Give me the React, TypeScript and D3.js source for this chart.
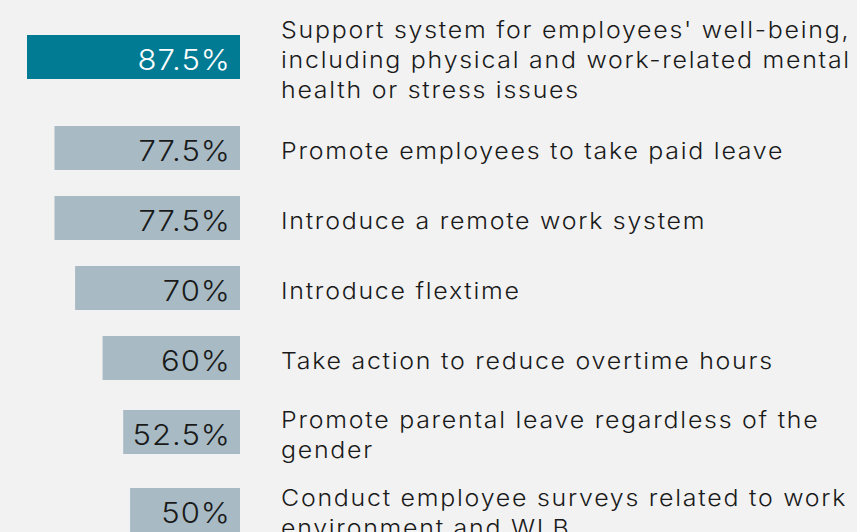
import React from "react";
import * as d3 from "d3";

const categories: string[][] = [
  ["Support system for employees' well-being,", "including physical and work-related mental", "health or stress issues"],
  ["Promote employees to take paid leave"],
  ["Introduce a remote work system"],
  ["Introduce flextime"],
  ["Take action to reduce overtime hours"],
  ["Promote parental leave regardless of the", "gender"],
  ["Conduct employee surveys related to work", "environment and WLB"],
];
const values: number[] = [87.5, 77.5, 77.5, 70, 60, 52.5, 50];
const valueLabels: string[] = ["87.5%", "77.5%", "77.5%", "70%", "60%", "52.5%", "50%"];

const W = 857;
const H = 532;
const BAR_RIGHT = 240;
const BAR_H = 44;
const LINE_H = 30;
const GAP = 26;
const TEXT_X = 281;
const FONT = "Inter, 'DejaVu Sans', sans-serif";

function blockHeight(lines: number) {
  if (lines === 1) return BAR_H;
  if (lines === 2) return 52;
  return 86;
}

export default function App() {
  const x = d3.scaleLinear().domain([10, 87.5]).range([0, 213]);
  const centers: number[] = [];
  let c = 57;
  categories.forEach((lines, i) => {
    if (i > 0) {
      c += blockHeight(categories[i - 1].length) / 2 + blockHeight(lines.length) / 2 + GAP;
    }
    centers.push(c);
  });
  const maxV = d3.max(values) as number;
  return (
    <svg width={W} height={H} style={{ position: "absolute", left: 0, top: 0, background: "#f2f2f2" }}>
      <rect x={0} y={0} width={W} height={H} fill="#f2f2f2" />
      {values.map((v, i) => {
        const w = x(v);
        const cy = centers[i];
        const top = v === maxV;
        return (
          <g key={i}>
            <rect x={BAR_RIGHT - w} y={cy - BAR_H / 2} width={w} height={BAR_H} fill={top ? "#007b93" : "#a8bbc5"} />
            <g transform={`translate(${BAR_RIGHT - 9},0) scale(1.07,1)`}>
              <text
                x={0}
                y={cy + 13}
                textAnchor="end"
                fontFamily={FONT}
                fontSize={29}
                fontWeight={300}
                letterSpacing={1}
                fill={top ? "#ffffff" : "#1a1a1a"}
              >
                {valueLabels[i]}
              </text>
            </g>
            <g transform={`translate(${TEXT_X},0) scale(1.085,1)`}>
              <text x={0} fontFamily={FONT} fontSize={23} fontWeight={300} letterSpacing={1.6} fill="#1a1a1a">
                {categories[i].map((ln, j) => (
                  <tspan key={j} x={0} y={cy + 11 - ((categories[i].length - 1) * LINE_H) / 2 + j * LINE_H}>
                    {ln}
                  </tspan>
                ))}
              </text>
            </g>
          </g>
        );
      })}
    </svg>
  );
}
